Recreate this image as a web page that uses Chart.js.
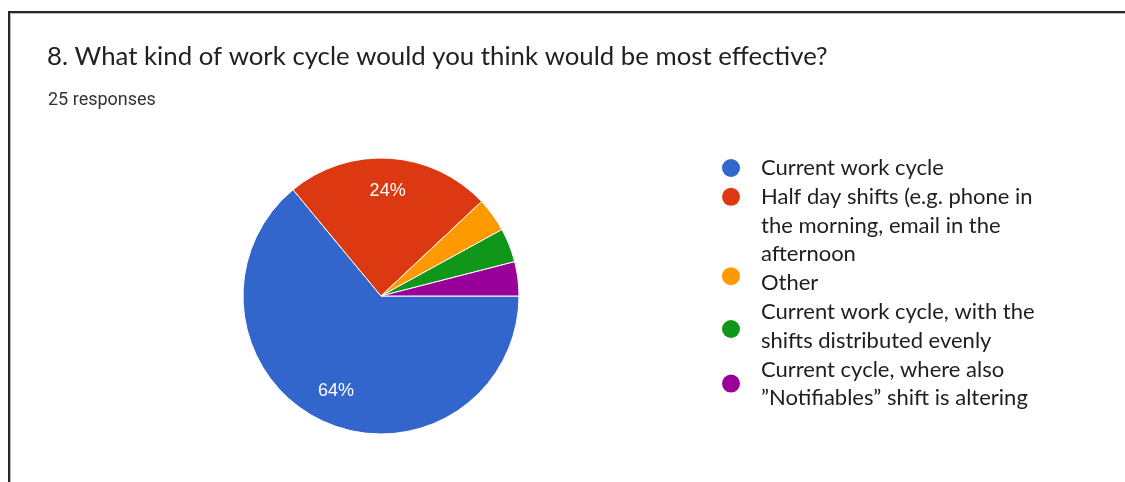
<!DOCTYPE html>
<html><head><meta charset="utf-8">
<script src="https://cdn.jsdelivr.net/npm/chart.js@4.4.0/dist/chart.umd.min.js"></script>
<style>html,body{margin:0;padding:0;background:#fff;overflow:hidden}#wrap{position:relative;width:1125px;height:482px}</style>
</head><body><div id="wrap"><canvas id="c" width="1125" height="482"></canvas></div>
<script>
const title = "8. What kind of work cycle would you think would be most effective?";
const subtitle = "25 responses";
const categories = [
  ["Current work cycle"],
  ["Half day shifts (e.g. phone in", "the morning, email in the", "afternoon"],
  ["Other"],
  ["Current work cycle, with the", "shifts distributed evenly"],
  ["Current cycle, where also", "\u201DNotifiables\u201D shift is altering"]
];
const responses = [16, 6, 1, 1, 1];
const sliceColors = ["#3366cc", "#dc3912", "#ff9900", "#109618", "#990099"];

function fitSize(ctx, text, family, target) {
  ctx.font = "100px " + family;
  return 100 * target / ctx.measureText(text).width;
}

const decor = {
  id: "decor",
  afterDraw(chart) {
    const ctx = chart.ctx;
    ctx.save();
    // frame
    ctx.fillStyle = "#bdbdbd";
    ctx.fillRect(10, 13, 1115, 1);
    ctx.fillRect(10, 13, 1, 469);
    ctx.fillStyle = "#262626";
    ctx.fillRect(8, 11, 1117, 2);
    ctx.fillRect(8, 11, 2, 471);

    // title
    const tFam = "Lato, 'Open Sans', sans-serif";
    const ts = fitSize(ctx, title, tFam, 781);
    ctx.font = ts + "px " + tFam;
    ctx.fillStyle = "#202124";
    ctx.textBaseline = "alphabetic";
    ctx.textAlign = "left";
    ctx.fillText(title, 47, 65);

    const sFam = "Roboto, sans-serif";
    const ss = fitSize(ctx, subtitle, sFam, 108);
    ctx.font = ss + "px " + sFam;
    ctx.fillStyle = "#333333";
    ctx.fillText(subtitle, 48, 105);

    // slice labels
    const meta = chart.getDatasetMeta(0);
    const total = responses.reduce((a, b) => a + b, 0);
    ctx.font = "18px 'Liberation Sans', Arial, sans-serif";
    ctx.fillStyle = "#ffffff";
    ctx.textAlign = "center";
    ctx.textBaseline = "middle";
    meta.data.forEach((arc, i) => {
      const pct = responses[i] / total;
      if (pct < 0.1) return;
      const p = arc.getProps(["x", "y", "startAngle", "endAngle", "outerRadius"], true);
      const mid = (p.startAngle + p.endAngle) / 2;
      const r = p.outerRadius * 0.765;
      ctx.fillText(Math.round(pct * 100) + "%", p.x + Math.cos(mid) * r, p.y + Math.sin(mid) * r);
    });

    // legend
    const lFam = "Lato, 'Open Sans', sans-serif";
    const ls = fitSize(ctx, categories[0][0], lFam, 183);
    ctx.font = ls + "px " + lFam;
    ctx.textAlign = "left";
    ctx.textBaseline = "alphabetic";
    const dotShift = [0, 0, -7, 17, 14];
    const step = 28.8;
    let base = 175;
    categories.forEach((lines, i) => {
      const dotY = base - 7 + dotShift[i];
      ctx.beginPath();
      ctx.fillStyle = sliceColors[i];
      ctx.arc(731, dotY, 9, 0, Math.PI * 2);
      ctx.fill();
      ctx.fillStyle = "#1e1e1e";
      lines.forEach(line => {
        ctx.fillText(line, 761, base);
        base += step;
      });
    });
    ctx.restore();
  }
};

new Chart(document.getElementById("c"), {
  type: "pie",
  data: {
    labels: categories,
    datasets: [{
      data: responses,
      backgroundColor: sliceColors,
      borderColor: "#ffffff",
      borderWidth: 1,
      hoverOffset: 0
    }]
  },
  options: {
    responsive: false,
    animation: false,
    rotation: 90,
    radius: 138,
    layout: { padding: { left: 231, right: 594, top: 146, bottom: 36 } },
    plugins: { legend: { display: false }, tooltip: { enabled: false } },
    events: []
  },
  plugins: [decor]
});
</script>
</body></html>
